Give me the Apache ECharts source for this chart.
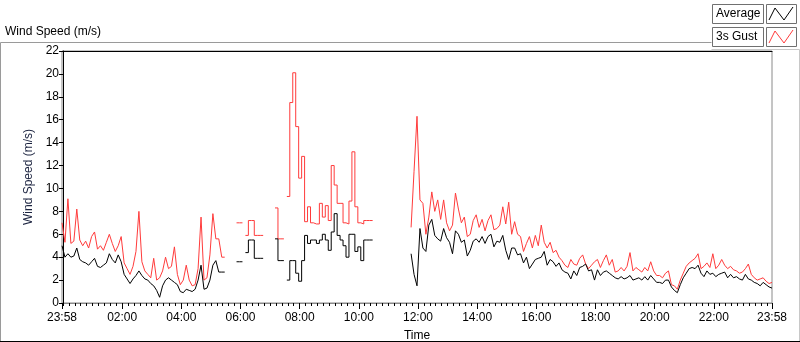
<!DOCTYPE html>
<html>
<head>
<meta charset="utf-8">
<script src="https://cdn.jsdelivr.net/npm/echarts@6/dist/echarts.min.js"></script>
<style>
  html, body { margin: 0; padding: 0; background: #fff; }
  #chart { width: 800px; height: 342px; }
</style>
</head>
<body>
<div id="chart"></div>
<script>
// one sample every 6 minutes, starting 23:58 (minute -2 of the day)
var startMinute = -2;
var stepMinutes = 6;
// samples 56..117 are the sparse, held-value stretch (drawn as steps)
var sparseFrom = 56, sparseTo = 117;

// 3s gust (m/s), null = no data
var gust = [
  7.0, 5.3, 9.1, 5.2, 5.4, 8.2, 5.5, 5.0, 5.4, 4.8,
  5.8, 6.2, 4.7, 5.0, 4.6, 5.3, 6.0, 5.2, 4.5, 5.0,
  5.8, 3.5, 3.0, 2.5, 3.2, 4.5, 8.0, 3.6, 2.8, 2.5,
  2.2, 3.9, 2.0, 2.2, 2.8, 4.0, 3.0, 3.2, 4.9, 2.5,
  1.6, 2.0, 3.3, 2.0, 1.5, 1.6, 3.0, 7.5, 2.0, 2.2,
  4.2, 7.8, 5.6, 5.6, 4.0, 4.0, null, null, null, 7.0,
  7.0, null, 5.9, 7.2, 7.2, 5.9, 5.9, 5.9, null, null,
  null, null, 8.3, 5.6, 5.6, null, 9.3, 17.5, 20.1, 15.4,
  10.9, 12.8, 7.1, 8.4, 7.0, 6.9, 6.9, 8.7, 7.5, 8.5,
  7.2, 12.0, 10.3, 8.7, 8.7, 7.0, 6.9, 8.9, 13.2, 8.4,
  7.0, 6.9, 7.2, 7.2, 7.2, null, null, null, null, null,
  null, null, null, null, null, null, null, null, 6.6, 11.5,
  16.3, 9.0, 8.7, 6.0, 7.5, 9.7, 8.0, 9.0, 7.3, 9.0,
  7.0, 6.3, 6.8, 9.6, 8.2, 7.0, 7.5, 5.8, 6.0, 7.2,
  7.7, 6.6, 7.3, 6.3, 7.2, 7.7, 6.4, 6.5, 6.8, 8.4,
  6.9, 8.8, 6.0, 7.1, 6.0, 5.8, 4.5, 5.2, 5.8, 4.8,
  5.9, 5.0, 6.8, 5.3, 4.8, 5.3, 4.4, 4.6, 4.0, 3.7,
  3.3, 3.1, 3.8, 3.4, 3.3, 3.9, 4.2, 3.4, 3.0, 3.3,
  3.6, 3.8, 3.1, 3.7, 4.2, 3.3, 3.8, 2.7, 2.8, 3.1,
  2.8, 3.2, 4.4, 2.8, 3.1, 2.9, 2.7, 3.1, 2.8, 3.6,
  2.8, 2.4, 2.4, 2.2, 2.6, 2.8, 1.6, 1.5, 1.2, 2.0,
  2.6, 3.2, 3.5, 3.7, 3.9, 4.3, 3.0, 3.2, 3.5, 3.1,
  4.3, 3.0, 3.3, 3.8, 3.3, 3.0, 3.2, 2.9, 2.8, 2.6,
  2.7, 3.0, 3.4, 2.5, 2.2, 2.0, 2.1, 2.2, 1.9, 1.7,
  1.8
];

// average (m/s)
var average = [
  5.0, 4.0, 4.3, 4.0, 4.1, 4.8, 3.8, 3.6, 3.5, 3.3,
  3.6, 3.9, 3.2, 3.1, 3.3, 3.5, 4.3, 3.8, 3.5, 4.2,
  3.6, 2.5, 2.1, 1.7, 2.1, 2.4, 2.8, 2.4, 2.1, 2.0,
  1.7, 1.5, 1.1, 0.5, 1.5, 2.0, 2.2, 2.0, 1.8, 1.6,
  1.0, 0.9, 1.2, 1.1, 1.0, 1.2, 2.0, 3.3, 1.2, 1.3,
  2.0, 3.3, 3.7, 2.7, 2.7, 2.7, null, null, null, 3.6,
  3.6, null, 4.4, 5.5, 5.5, 3.9, 3.9, 3.9, null, null,
  null, null, 5.6, 3.7, 3.7, null, 2.0, 3.7, 3.7, 2.6,
  1.9, 3.7, 5.9, 5.2, 5.5, 5.5, 5.2, 5.5, 6.0, 5.5,
  4.6, 6.2, 7.8, 5.9, 5.5, 5.0, 4.0, 6.0, 6.0, 4.5,
  4.9, 3.7, 5.5, 5.5, 5.5, null, null, null, null, null,
  null, null, null, null, null, null, null, null, 4.3, 2.5,
  1.5, 6.5, 4.8, 4.5, 6.8, 7.3, 5.9, 5.6, 5.4, 6.5,
  5.7, 5.3, 4.3, 6.3, 6.0, 5.3, 5.5, 4.1, 4.6, 5.4,
  5.6, 5.3, 5.8, 5.2, 5.8, 6.0, 4.9, 5.4, 5.3, 5.9,
  4.6, 3.8, 4.8, 4.8, 4.2, 4.3, 3.5, 4.0, 3.0, 3.4,
  3.8, 3.9, 4.0, 4.5, 3.3, 3.8, 3.6, 3.2, 3.5, 2.9,
  2.7, 2.6, 2.1, 2.8, 2.4, 3.1, 3.2, 3.4, 2.8, 2.9,
  2.0, 2.9, 2.4, 2.7, 2.8, 2.6, 2.4, 2.2, 2.1, 2.3,
  2.1, 2.2, 2.4, 2.0, 2.1, 2.2, 2.0, 2.3, 2.0, 2.4,
  2.1, 1.8, 1.8, 1.7, 2.0, 2.0, 1.4, 1.1, 0.9, 1.6,
  2.2, 2.6, 3.0, 3.1, 3.0, 3.3, 2.6, 2.3, 2.8, 2.5,
  2.6, 2.3, 2.5, 2.6, 2.7, 2.2, 2.5, 2.2, 2.3, 2.1,
  2.0, 2.5, 2.1, 2.0, 1.8, 1.7, 1.5, 1.8, 1.6, 1.4,
  1.3
];

// time axis labels (minutes from midnight)
var tickMinutes = [-2, 120, 240, 360, 480, 600, 720, 840, 960, 1080, 1200, 1320, 1438];
var tickLabels = ["23:58", "02:00", "04:00", "06:00", "08:00", "10:00", "12:00",
                  "14:00", "16:00", "18:00", "20:00", "22:00", "23:58"];

var minorTicks = [];
for (var m = 0; m <= 1428; m += 12) minorTicks.push(m);

// keep only the samples inside (or outside) the sparse stretch
function toPairs(arr, sparse) {
  return arr.map(function (v, i) {
    var inSparse = i >= sparseFrom && i <= sparseTo;
    var keep = sparse ? inSparse : !inSparse;
    return [startMinute + i * stepMinutes, (v == null || !keep) ? "-" : v];
  });
}

var font = "Liberation Sans, Arial, sans-serif";
var red = "#ff3b3b";
var myChart = echarts.init(document.getElementById("chart"), null, { renderer: "canvas" });

function lineSeries(name, arr, color, sparse) {
  return {
    name: name, type: "line", step: sparse ? "end" : false, xAxisIndex: 0,
    data: toPairs(arr, sparse), showSymbol: false, connectNulls: false,
    lineStyle: { color: color, width: 1 }, itemStyle: { color: color }
  };
}

var option = {
  animation: false,
  backgroundColor: "#fff",
  grid: {
    left: 62, right: 28, top: 51, bottom: 39,
    outerBoundsMode: "none", containLabel: false,
    show: true, borderColor: "#8a8a8a", borderWidth: 1, backgroundColor: "#fff"
  },
  xAxis: [
    {
      type: "value", min: -2, max: 1438, position: "bottom",
      name: "Time", nameLocation: "middle", nameGap: 27,
      nameTextStyle: { color: "#000", fontFamily: font, fontSize: 12 },
      axisLine: { show: true, lineStyle: { color: "#8a8a8a", width: 1 } },
      axisTick: { show: true, customValues: tickMinutes, length: 6, lineStyle: { color: "#000" } },
      axisLabel: {
        customValues: tickMinutes, color: "#000", fontFamily: font, fontSize: 12, margin: 9,
        formatter: function (val) {
          var k = tickMinutes.indexOf(val);
          return k >= 0 ? tickLabels[k] : "";
        }
      },
      splitLine: { show: false }
    },
    {
      type: "value", min: -2, max: 1438, position: "bottom",
      axisLine: { show: false },
      axisTick: { show: true, customValues: minorTicks, length: 3, lineStyle: { color: "#000" } },
      axisLabel: { show: false },
      splitLine: { show: false }
    },
    {
      type: "value", min: -2, max: 1438, position: "top",
      axisLine: { show: true, lineStyle: { color: "#000", width: 1 } },
      axisTick: { show: false }, axisLabel: { show: false }, splitLine: { show: false }
    }
  ],
  yAxis: {
    type: "value", min: 0, max: 22, interval: 2,
    name: "Wind Speed (m/s)", nameLocation: "middle", nameGap: 24, nameRotate: 90,
    nameTextStyle: { color: "#1c2440", fontFamily: font, fontSize: 12 },
    axisLine: { show: true, lineStyle: { color: "#000", width: 1 } },
    axisTick: { show: true, length: 4, lineStyle: { color: "#000" } },
    axisLabel: { color: "#000", fontFamily: font, fontSize: 12, margin: 3 },
    splitLine: { show: false }
  },
  graphic: [
    { type: "polyline", shape: { points: [[0.5, 342], [0.5, 42.5], [711.5, 42.5]] },
      style: { stroke: "#9a9a9a", fill: null, lineWidth: 1 } },
    { type: "polyline", shape: { points: [[711.5, 49.5], [799.5, 49.5], [799.5, 342]] },
      style: { stroke: "#c8c8c8", fill: null, lineWidth: 1 } },
    { type: "line", shape: { x1: 0, y1: 341.5, x2: 800, y2: 341.5 },
      style: { stroke: "#000", lineWidth: 1 } },
    { type: "text", left: 5, top: 26,
      style: { text: "Wind Speed (m/s)", fill: "#000", font: "12px " + font } },
    // legend
    { type: "rect", shape: { x: 712.5, y: 4.5, width: 51, height: 19 },
      style: { fill: "#fff", stroke: "#707070", lineWidth: 1 } },
    { type: "text", left: 716, top: 8,
      style: { text: "Average", fill: "#000", font: "12px " + font } },
    { type: "rect", shape: { x: 766.5, y: 4.5, width: 30, height: 19 },
      style: { fill: "#fff", stroke: "#707070", lineWidth: 1 } },
    { type: "polyline", shape: { points: [[769, 20], [775, 8], [784, 20], [793, 7]] },
      style: { stroke: "#000", fill: null, lineWidth: 1 } },
    { type: "rect", shape: { x: 712.5, y: 27.5, width: 51, height: 19 },
      style: { fill: "#fff", stroke: "#707070", lineWidth: 1 } },
    { type: "text", left: 716, top: 31,
      style: { text: "3s Gust", fill: "#000", font: "12px " + font } },
    { type: "rect", shape: { x: 766.5, y: 27.5, width: 30, height: 19 },
      style: { fill: "#fff", stroke: "#707070", lineWidth: 1 } },
    { type: "polyline", shape: { points: [[769, 43], [775, 31], [784, 43], [793, 30]] },
      style: { stroke: red, fill: null, lineWidth: 1 } }
  ],
  series: [
    lineSeries("3s Gust", gust, red, false),
    lineSeries("3s Gust", gust, red, true),
    lineSeries("Average", average, "#000", false),
    lineSeries("Average", average, "#000", true)
  ]
};

myChart.setOption(option);
</script>
</body>
</html>
